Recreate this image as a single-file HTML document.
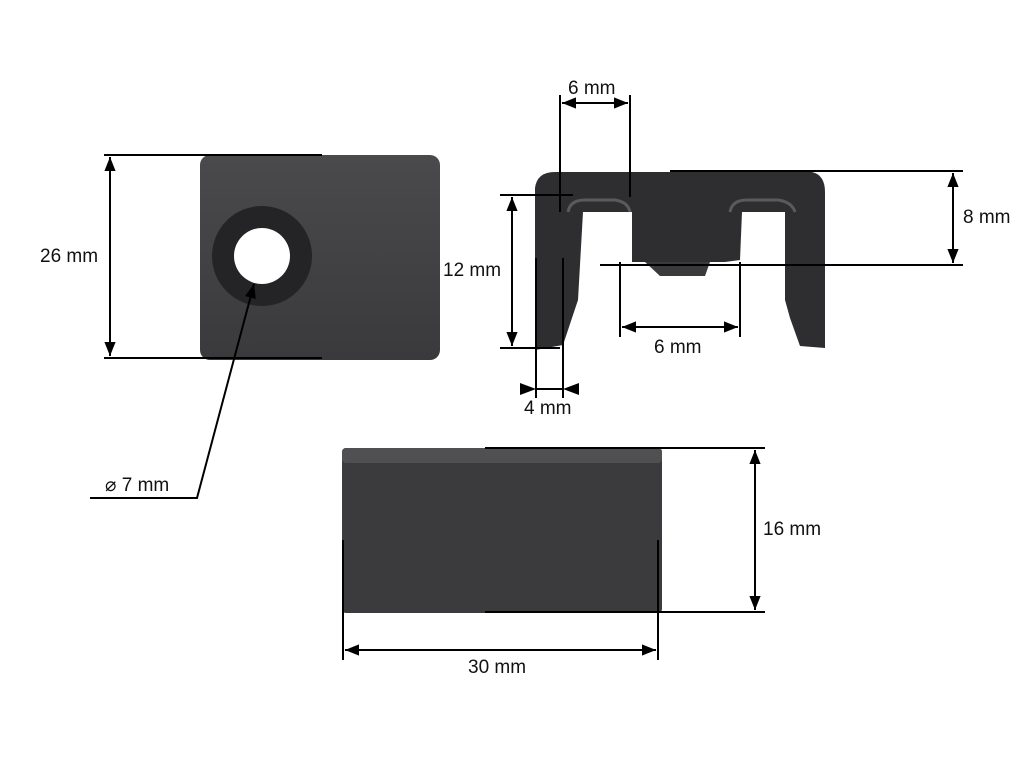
<!DOCTYPE html>
<html><head><meta charset="utf-8"><style>
html,body{margin:0;padding:0;background:#fff}
svg{display:block}
text{font-family:"Liberation Sans",sans-serif;font-size:19px;fill:#111}
</style></head><body>
<svg width="1024" height="768" viewBox="0 0 1024 768" xmlns="http://www.w3.org/2000/svg">
<defs>
<marker id="a" viewBox="0 0 10 10" refX="10" refY="5" markerWidth="7" markerHeight="7" orient="auto-start-reverse"><path d="M0,1 L10,5 L0,9 z" fill="#000"/></marker>
<linearGradient id="g1" x1="0" y1="0" x2="0" y2="1"><stop offset="0" stop-color="#4a4a4c"/><stop offset="1" stop-color="#3a3a3c"/></linearGradient>
</defs>
<rect x="200" y="155" width="240" height="205" rx="10" fill="url(#g1)"/>
<circle cx="262" cy="256" r="50" fill="#242426"/>
<circle cx="262" cy="256" r="28" fill="#fff"/>
<path d="M535,188 Q537,172 555,172 L812,172 Q825,175 825,192 L825,348 L800,346 L790,318 L785,300 L785,212 L742,212 L740,260 L725,262 L632,262 L632,212 L620,212 L583,212 L578,300 L563,345 L535,350 Z" fill="#2e2e30"/>
<path d="M645,262 L710,262 L705,276 L660,276 Z" fill="#3a3a3c"/>
<path d="M568,212 Q570,200 585,200 L615,200 Q628,202 630,212" fill="none" stroke="#5a5a5c" stroke-width="3"/>
<path d="M730,212 Q732,200 747,200 L778,200 Q792,202 795,212" fill="none" stroke="#5a5a5c" stroke-width="3"/>
<rect x="342" y="448" width="320" height="165" rx="4" fill="#3b3b3d"/>
<rect x="342" y="448" width="320" height="15" rx="4" fill="#505052"/>
<g stroke="#000" stroke-width="2" fill="none">
<line x1="104" y1="155" x2="322" y2="155"/><line x1="104" y1="358" x2="322" y2="358"/>
<line x1="110" y1="157" x2="110" y2="356" marker-start="url(#a)" marker-end="url(#a)"/>
<polyline points="90,498 197,498 254,284" marker-end="url(#a)"/>
<line x1="560" y1="95" x2="560" y2="212"/><line x1="630" y1="95" x2="630" y2="197"/>
<line x1="562" y1="103" x2="628" y2="103" marker-start="url(#a)" marker-end="url(#a)"/>
<line x1="670" y1="171" x2="963" y2="171"/><line x1="600" y1="265" x2="963" y2="265"/>
<line x1="953" y1="173" x2="953" y2="263" marker-start="url(#a)" marker-end="url(#a)"/>
<line x1="500" y1="195" x2="573" y2="195"/><line x1="500" y1="348" x2="560" y2="348"/>
<line x1="512" y1="197" x2="512" y2="346" marker-start="url(#a)" marker-end="url(#a)"/>
<line x1="620" y1="262" x2="620" y2="337"/><line x1="740" y1="262" x2="740" y2="337"/>
<line x1="622" y1="327" x2="738" y2="327" marker-start="url(#a)" marker-end="url(#a)"/>
<line x1="536" y1="258" x2="536" y2="398"/><line x1="563" y1="258" x2="563" y2="398"/>
<line x1="536" y1="389" x2="563" y2="389"/>
<line x1="755" y1="450" x2="755" y2="610" marker-start="url(#a)" marker-end="url(#a)"/>
<line x1="485" y1="448" x2="765" y2="448"/><line x1="485" y1="612" x2="765" y2="612"/>
<line x1="343" y1="540" x2="343" y2="660"/><line x1="658" y1="540" x2="658" y2="660"/>
<line x1="345" y1="650" x2="656" y2="650" marker-start="url(#a)" marker-end="url(#a)"/>
</g>
<path d="M520,383 L536,389 L520,395 Z M579,383 L563,389 L579,395 Z" fill="#000"/>
<text x="40" y="262">26 mm</text>
<text x="105" y="491">⌀ 7 mm</text>
<text x="568" y="94">6 mm</text>
<text x="963" y="223">8 mm</text>
<text x="443" y="276">12 mm</text>
<text x="654" y="353">6 mm</text>
<text x="524" y="414">4 mm</text>
<text x="763" y="535">16 mm</text>
<text x="468" y="673">30 mm</text>
</svg>
</body></html>
